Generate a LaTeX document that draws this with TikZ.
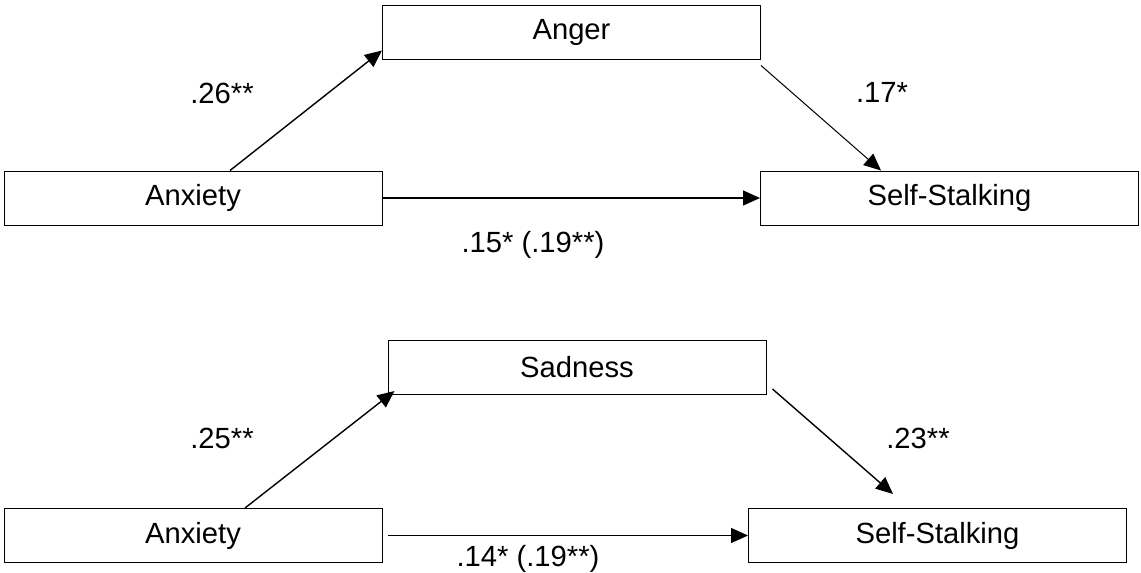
\documentclass[tikz,border=0pt]{standalone}
\usepackage{fontspec}
\setmainfont{Liberation Sans}
\usetikzlibrary{arrows.meta}

\begin{document}
\begin{tikzpicture}[x=0.5pt, y=-0.5pt,
  var/.style={draw, line width=0.5pt, minimum width=189pt, minimum height=27pt, inner sep=0pt, font=\fontsize{14.6}{17}\selectfont},
  link/.style={-{Triangle[length=8.5pt,width=7.5pt]}, line width=0.7pt},
  coef/.style={font=\fontsize{14.6}{17}\selectfont}]
\useasboundingbox (0,0) rectangle (1141,573);
% anger model
\node[var] (anx1) at (193,198) {Anxiety};
\node[var] (ang) at (571.5,32) {Anger};
\node[var] (ss1) at (949.5,198) {Self-Stalking};
\draw[link] ([xshift=18.5pt]anx1.north) -- ([yshift=4.5pt]ang.south west);
\draw[link, line width=0.5pt] ([yshift=-3pt]ang.south east) -- ([xshift=-34.25pt]ss1.north);
\draw[link] (anx1.east) -- (ss1.west);
\node[coef] (a1) at (222,93) {.26**};
\node[coef] (b1) at (882,92) {.17*};
\node[coef] (c1) at (533,245) {.15* (.19**)};
% sadness model
\node[var] (anx2) at (193,535.5) {Anxiety};
\node[var] (sad) at (577,367.5) {Sadness};
\node[var] (ss2) at (937.5,535.5) {Self-Stalking};
\draw[link] ([xshift=26pt]anx2.north) -- ([xshift=3.5pt,yshift=2pt]sad.south west);
\draw[link] ([xshift=3pt,yshift=3pt]sad.south east) -- ([xshift=-22.25pt,yshift=7pt]ss2.north);
\draw[link] ([xshift=2.5pt]anx2.east) -- (ss2.west);
\node[coef] (a2) at (222,438) {.25**};
\node[coef] (b2) at (918,438) {.23**};
\node[coef] (c2) at (528,559) {.14* (.19**)};
\end{tikzpicture}
\end{document}
